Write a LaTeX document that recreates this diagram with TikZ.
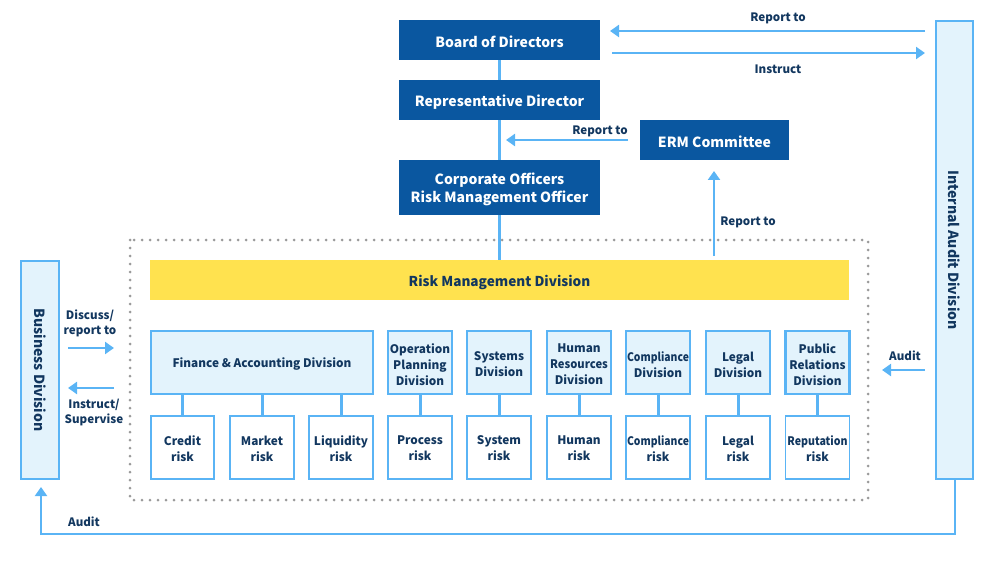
\documentclass[tikz,border=0pt]{standalone}
\usepackage{fontspec}
\usepackage{graphicx}
\setmainfont{Noto Sans CJK JP}
\usetikzlibrary{arrows.meta}
\definecolor{dbox}{HTML}{0A57A0}
\definecolor{lline}{HTML}{5AB4F5}
\definecolor{lfill}{HTML}{E3F3FC}
\definecolor{ybar}{HTML}{FFE24F}
\definecolor{tx}{HTML}{12375F}
\definecolor{dotgray}{HTML}{9A9A9A}
\newcommand{\narrow}[2]{\scalebox{#1}[1]{#2}}
\begin{document}
\begin{tikzpicture}[x=1pt,y=-1pt,
  darktxt/.style={text=white,font=\bfseries\fontsize{14}{18}\selectfont,inner sep=0pt,align=center,yshift=-2pt},
  dark/.style={fill=dbox,inner sep=0pt,label={[darktxt]center:#1}},
  boxtxt/.style={text=tx,font=\bfseries\fontsize{11.8}{16}\selectfont,inner sep=0pt,align=center,yshift=-2pt},
  risktxt/.style={text=tx,font=\bfseries\fontsize{11.8}{16}\selectfont,inner sep=0pt,align=center,yshift=-1pt},
  divbox/.style={fill=lfill,draw=lline,line width=2.2pt,inner sep=0pt,label={[boxtxt]center:#1}},
  riskbox/.style={fill=white,draw=lline,line width=1.3pt,inner sep=0pt,label={[risktxt]center:#1}},
  ybox/.style={fill=ybar,inner sep=0pt,label={[text=tx,font=\bfseries\fontsize{13.6}{17}\selectfont,inner sep=0pt,yshift=-2pt]center:#1}},
  sidebox/.style={fill=lfill,draw=lline,line width=2.2pt,text=tx,font=\bfseries\fontsize{14}{17}\selectfont,inner sep=0pt,align=center},
  lbl/.style={text=tx,font=\bfseries\fontsize{11.6}{15}\selectfont,inner sep=0pt,align=center},
  conn/.style={draw=lline,line width=3pt},
  arr/.style={draw=lline,line width=2.5pt,-{Triangle[length=9pt,width=12pt]}}
]
\useasboundingbox (0,0) rectangle (1000,561);

% dotted frame
\draw[dotgray,line width=3pt,line cap=round,dash pattern=on 0pt off 8pt] (130,240) rectangle (868,500);

% top boxes
\node[dark={Board of Directors},minimum width=201,minimum height=40] (board) at (499.5,40) {};
\node[dark={Representative Director},minimum width=201,minimum height=40] (rep) at (499.5,100) {};
\node[dark={Corporate Officers\\Risk Management Officer},minimum width=201,minimum height=55] (corp) at (499.5,187.5) {};
\node[dark={ERM Committee},minimum width=149,minimum height=40] (erm) at (714.5,140) {};

% risk management division
\node[ybox={Risk Management Division},minimum width=699,minimum height=40] (rmd) at (499.5,280) {};

% side boxes
\node[sidebox,rotate=-90,minimum width=458,minimum height=37] (iad) at (954.5,250) {Internal Audit Division};
\node[sidebox,rotate=-90,minimum width=218,minimum height=38] (bd) at (40,370) {Business Division};

% vertical connectors
\draw[conn] (board.south) -- (rep.north);
\draw[conn] (rep.south) -- (corp.north);
\draw[conn] (corp.south) -- (rmd.north);

% division boxes
\node[divbox={Finance \& Accounting Division},minimum width=222,minimum height=63] (fin) at (262,362.5) {};
\node[divbox={Operation\\Planning\\Division},minimum width=64,minimum height=63] (opd) at (420,362.5) {};
\node[divbox={Systems\\Division},minimum width=64,minimum height=63] (sys) at (499,362.5) {};
\node[divbox={Human\\\narrow{0.95}{Resources}\\Division},minimum width=64,minimum height=63] (hrd) at (579,362.5) {};
\node[divbox={\narrow{0.88}{Compliance}\\Division},minimum width=64,minimum height=63] (cpd) at (658,362.5) {};
\node[divbox={Legal\\Division},minimum width=64,minimum height=63] (lgd) at (738,362.5) {};
\node[divbox={Public\\Relations\\Division},minimum width=64,minimum height=63] (prd) at (817.5,362.5) {};

% risk boxes
\node[riskbox={Credit\\risk},minimum width=63,minimum height=63] (cr) at (182.5,447.5) {};
\node[riskbox={Market\\risk},minimum width=64,minimum height=63] (mr) at (262,447.5) {};
\node[riskbox={Liquidity\\risk},minimum width=64,minimum height=63] (lr) at (341,447.5) {};
\node[riskbox={Process\\risk},minimum width=64,minimum height=63] (pr) at (420,447.5) {};
\node[riskbox={System\\risk},minimum width=64,minimum height=63] (sr) at (499,447.5) {};
\node[riskbox={Human\\risk},minimum width=64,minimum height=63] (hr) at (579,447.5) {};
\node[riskbox={\narrow{0.88}{Compliance}\\risk},minimum width=64,minimum height=63] (cor) at (658,447.5) {};
\node[riskbox={Legal\\risk},minimum width=64,minimum height=63] (lgr) at (738,447.5) {};
\node[riskbox={\narrow{0.9}{Reputation}\\risk},minimum width=64,minimum height=63] (rr) at (817.5,447.5) {};

% division to risk connectors
\draw[conn] (fin.south -| cr.north) -- (cr.north);
\draw[conn] (fin.south -| mr.north) -- (mr.north);
\draw[conn] (fin.south -| lr.north) -- (lr.north);
\draw[conn] (opd.south) -- (pr.north);
\draw[conn] (sys.south) -- (sr.north);
\draw[conn] (hrd.south) -- (hr.north);
\draw[conn] (cpd.south) -- (cor.north);
\draw[conn] (lgd.south) -- (lgr.north);
\draw[conn] (prd.south) -- (rr.north);

% coordinates for arrows
\coordinate (brs) at (925,31);
\coordinate (bre) at (610,31);
\coordinate (bis) at (612,53);
\coordinate (bie) at (925,53);
\coordinate (ems) at (628,140);
\coordinate (eme) at (506,140);
\coordinate (rus) at (714,256);
\coordinate (rue) at (714,171);
\coordinate (das) at (68,348);
\coordinate (dae) at (114,348);
\coordinate (ias) at (114,388);
\coordinate (iae) at (68,388);
\coordinate (aus) at (925,370);
\coordinate (aue) at (882,370);
\coordinate (bot) at (41,534);
\coordinate (bdt) at (41,487);

\draw[arr] (brs) -- (bre);
\draw[arr] (bis) -- (bie);
\draw[arr] (ems) -- (eme);
\draw[arr] (rus) -- (rue);
\draw[arr] (das) -- (dae);
\draw[arr] (ias) -- (iae);
\draw[arr] (aus) -- (aue);
\draw[draw=lline,line width=2pt,-{Triangle[length=9pt,width=12pt]}] (iad.east) |- (bot) -- (bdt);

% labels
\node[lbl] (l1) at (778,18) {Report to};
\node[lbl] (l2) at (778,69) {Instruct};
\node[lbl] (l3) at (600,131) {Report to};
\node[lbl] (l4) at (748,222) {Report to};
\node[lbl] (l5) at (90,323) {Discuss/\\report to};
\node[lbl] (l6) at (94,412) {Instruct/\\Supervise};
\node[lbl] (l7) at (905,356) {Audit};
\node[lbl] (l8) at (84,522) {Audit};
\end{tikzpicture}
\end{document}
